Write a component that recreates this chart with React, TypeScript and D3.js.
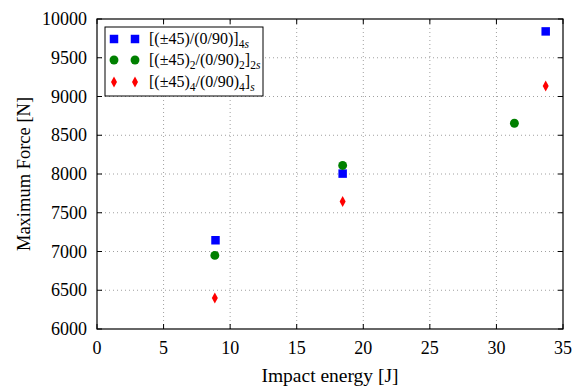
import React, { useRef, useEffect } from 'react';
import * as d3 from 'd3';

// impact energy [J] and maximum force [N] per layup
const energyA = [8.9, 18.45, 33.7];
const forceA = [7145, 8005, 9840];
const energyB = [8.85, 18.45, 31.35];
const forceB = [6950, 8110, 8655];
const energyC = [8.85, 18.45, 33.7];
const forceC = [6400, 7645, 9135];

const xTicks = [0, 5, 10, 15, 20, 25, 30, 35];
const yTicks = [6000, 6500, 7000, 7500, 8000, 8500, 9000, 9500, 10000];

// legend labels: [text, subscript?, italic?]
const legendA: [string, boolean, boolean][] = [['[(±45)/(0/90)]', false, false], ['4', true, false], ['s', true, true]];
const legendB: [string, boolean, boolean][] = [['[(±45)', false, false], ['2', true, false], ['/(0/90)', false, false], ['2', true, false], [']', false, false], ['2', true, false], ['s', true, true]];
const legendC: [string, boolean, boolean][] = [['[(±45)', false, false], ['4', true, false], ['/(0/90)', false, false], ['4', true, false], [']', false, false], ['s', true, true]];

const FONT = '"Liberation Serif", "DejaVu Serif", serif';

const App = () => {
  const svgRef = useRef<SVGSVGElement>(null);

  useEffect(() => {
    document.body.style.margin = '0';
    const width = 575;
    const height = 388;
    const margin = { top: 19, right: 12, bottom: 59, left: 97 };

    const svg = d3.select(svgRef.current)
      .attr('width', width)
      .attr('height', height)
      .style('display', 'block')
      .style('font-family', FONT);
    svg.selectAll('*').remove();

    const x = d3.scaleLinear().domain([0, 35]).range([margin.left, width - margin.right]);
    const y = d3.scaleLinear().domain([6000, 10000]).range([height - margin.bottom, margin.top]);

    const x0 = x(0), x1 = x(35), y0 = y(6000), y1 = y(10000);

    // grid
    const grid = svg.append('g')
      .attr('stroke', '#a0a0a0')
      .attr('stroke-width', 1)
      .attr('stroke-dasharray', '1,3');
    xTicks.slice(1, -1).forEach((t) => {
      grid.append('line').attr('x1', x(t)).attr('x2', x(t)).attr('y1', y0).attr('y2', y1);
    });
    yTicks.slice(1, -1).forEach((t) => {
      grid.append('line').attr('x1', x0).attr('x2', x1).attr('y1', y(t)).attr('y2', y(t));
    });

    // ticks (inward, all sides)
    const tl = 5;
    const ticks = svg.append('g').attr('stroke', '#000').attr('stroke-width', 1);
    xTicks.forEach((t) => {
      ticks.append('line').attr('x1', x(t)).attr('x2', x(t)).attr('y1', y0).attr('y2', y0 - tl);
      ticks.append('line').attr('x1', x(t)).attr('x2', x(t)).attr('y1', y1).attr('y2', y1 + tl);
    });
    yTicks.forEach((t) => {
      ticks.append('line').attr('x1', x0).attr('x2', x0 + tl).attr('y1', y(t)).attr('y2', y(t));
      ticks.append('line').attr('x1', x1).attr('x2', x1 - tl).attr('y1', y(t)).attr('y2', y(t));
    });

    // frame
    svg.append('rect')
      .attr('x', x0).attr('y', y1)
      .attr('width', x1 - x0).attr('height', y0 - y1)
      .attr('fill', 'none').attr('stroke', '#000').attr('stroke-width', 1.2);

    // tick labels
    svg.append('g').selectAll('text').data(xTicks).enter().append('text')
      .attr('x', (d) => x(d)).attr('y', y0 + 25)
      .attr('text-anchor', 'middle').attr('font-size', 18)
      .text((d) => d);
    svg.append('g').selectAll('text').data(yTicks).enter().append('text')
      .attr('x', x0 - 10).attr('y', (d) => y(d) + 6)
      .attr('text-anchor', 'end').attr('font-size', 18)
      .text((d) => d);

    // axis labels
    svg.append('text')
      .attr('x', (x0 + x1) / 2).attr('y', height - 6)
      .attr('text-anchor', 'middle').attr('font-size', 19.5)
      .text('Impact energy [J]');
    svg.append('text')
      .attr('transform', `translate(30, ${(y0 + y1) / 2}) rotate(-90)`)
      .attr('text-anchor', 'middle').attr('font-size', 18.5)
      .text('Maximum Force [N]');

    const sq = d3.symbol().type(d3.symbolSquare).size(72)() as string;
    const circ = d3.symbol().type(d3.symbolCircle).size(62)() as string;
    const diamond = 'M0,-5.5L3,0L0,5.5L-3,0Z';

    const drawPts = (xs: number[], ys: number[], path: string, color: string) => {
      svg.append('g').selectAll('path').data(xs).enter().append('path')
        .attr('transform', (d, i) => `translate(${x(d)},${y(ys[i])})`)
        .attr('d', path)
        .attr('fill', color);
    };
    drawPts(energyA, forceA, sq, '#0000ff');
    drawPts(energyB, forceB, circ, '#008000');
    drawPts(energyC, forceC, diamond, '#ff0000');

    // legend
    const lg = svg.append('g');
    lg.append('rect')
      .attr('x', 105).attr('y', 27).attr('width', 158).attr('height', 69)
      .attr('fill', '#fff').attr('stroke', '#000').attr('stroke-width', 1);

    const entries = [
      { path: sq, color: '#0000ff', label: legendA },
      { path: circ, color: '#008000', label: legendB },
      { path: diamond, color: '#ff0000', label: legendC },
    ];
    const rowsY = [39, 60, 82];
    entries.forEach((e, i) => {
      [114, 135].forEach((mx) => {
        lg.append('path').attr('transform', `translate(${mx},${rowsY[i]})`)
          .attr('d', e.path).attr('fill', e.color);
      });
      const t = lg.append('text').attr('x', 149).attr('y', rowsY[i] + 5).attr('font-size', 16);
      let inSub = false;
      e.label.forEach(([s, sub, it]) => {
        const ts = t.append('tspan').text(s);
        if (sub) ts.attr('font-size', 11.5);
        if (it) ts.attr('font-style', 'italic');
        if (sub && !inSub) ts.attr('dy', 4);
        if (!sub && inSub) ts.attr('dy', -4);
        inSub = sub;
      });
    });
  }, []);

  return <svg ref={svgRef} />;
};

export default App;
